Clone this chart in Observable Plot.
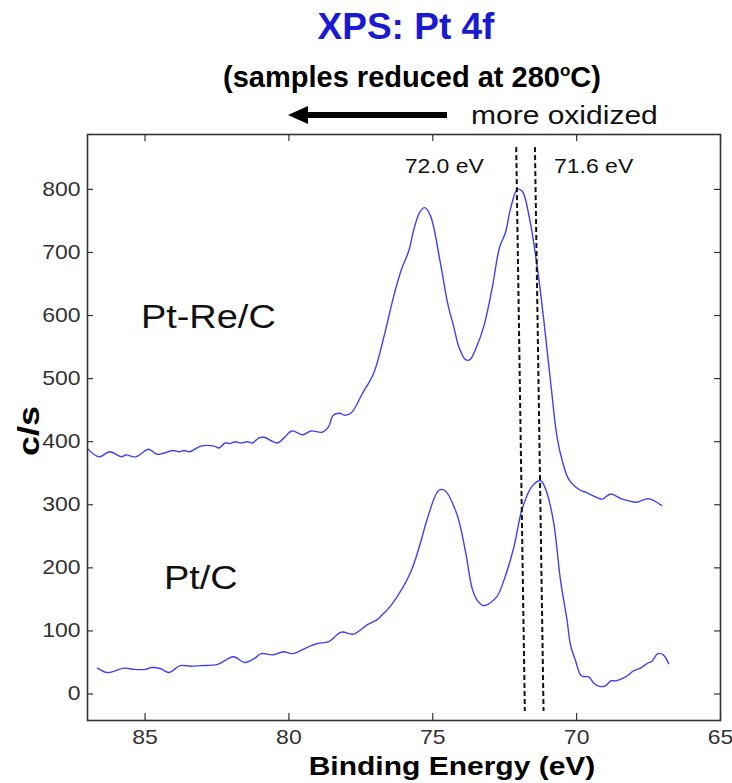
<!DOCTYPE html>
<html><head><meta charset="utf-8">
<script src="https://cdn.jsdelivr.net/npm/d3@7"></script>
<script src="https://cdn.jsdelivr.net/npm/@observablehq/plot@0.6"></script>
<style>
body{margin:0;background:#fff;}
#wrap{position:relative;width:732px;height:783px;overflow:hidden;font-family:"Liberation Sans",Arial,sans-serif;background:#fff;}
#wrap svg{position:absolute;left:0;top:0;}
.ov{position:absolute;white-space:nowrap;line-height:1;}
</style></head><body>
<div id="wrap">
  <div class="ov" style="left:406px;top:8px;transform:translateX(-50%);font-size:37px;font-weight:bold;color:#1a1ad0;">XPS: Pt 4f</div>
  <div class="ov" style="left:412px;top:63px;transform:translateX(-50%);font-size:29px;font-weight:bold;color:#000;">(samples reduced at 280<span style="font-size:17px;position:relative;top:-11px;">o</span>C)</div>
  <div class="ov" style="left:305px;top:112px;width:142px;height:6px;background:#000;"></div>
  <div class="ov" style="left:288px;top:106px;width:0;height:0;border-top:9px solid transparent;border-bottom:9px solid transparent;border-right:20px solid #000;"></div>
  <div class="ov" style="left:471px;top:103px;font-size:25px;color:#111;transform:scaleX(1.2);transform-origin:left center;">more oxidized</div>
  <div class="ov" style="left:452px;top:754px;transform:translateX(-50%) scaleX(1.2);font-size:25px;font-weight:bold;color:#000;">Binding Energy (eV)</div>
  <div class="ov" style="left:29px;top:431px;transform:translate(-50%,-50%) rotate(-90deg) scaleX(1.2);font-size:30px;font-weight:bold;color:#000;">c/s</div>
</div>
<script>
// Pt-Re/C spectrum (binding energy eV, counts/s)
const ptReEV = [87.00, 86.60, 86.23, 85.81, 85.67, 85.32, 84.88, 84.57, 84.03, 83.82,
  83.64, 83.45, 83.06, 82.60, 82.43, 82.22, 82.06, 81.85, 81.68, 81.44,
  81.27, 81.04, 80.87, 80.40, 80.17, 79.90, 79.51, 79.24, 78.84, 78.63,
  78.46, 78.24, 78.06, 77.83, 77.45, 77.05, 76.70, 76.35, 76.09, 75.83,
  75.66, 75.45, 75.28, 75.08, 74.73, 74.48, 74.27, 74.09, 73.86, 73.71,
  73.48, 73.22, 72.93, 72.68, 72.47, 72.30, 72.06, 71.89, 71.63, 71.37,
  71.14, 70.91, 70.68, 70.50, 70.27, 69.87, 69.69, 69.46, 69.11, 68.82,
  68.42, 67.90, 67.61, 67.43, 67.05];
const ptReCounts = [389, 376, 384, 376, 379, 376, 388, 380, 386, 384,
  386, 384, 393, 393, 390, 398, 397, 400, 398, 400,
  398, 406, 407, 398, 406, 417, 411, 417, 415, 423,
  442, 445, 442, 446, 476, 509, 566, 632, 673, 703,
  736, 764, 771, 758, 682, 619, 582, 550, 530, 530,
  550, 584, 645, 708, 732, 769, 800, 797, 752, 677,
  592, 497, 407, 370, 340, 323, 320, 315, 309, 317,
  309, 304, 309, 309, 299];
// Pt/C spectrum
const ptEV = [86.65, 86.31, 85.73, 85.38, 84.98, 84.77, 84.45, 84.17, 83.78, 83.41,
  83.06, 82.48, 81.93, 81.54, 81.21, 80.96, 80.57, 80.19, 79.88, 79.36,
  79.01, 78.61, 78.18, 77.76, 77.27, 76.93, 76.81, 76.41, 75.77, 75.42,
  75.19, 74.79, 74.59, 74.17, 73.86, 73.63, 73.45, 73.22, 72.78, 72.53,
  72.18, 71.89, 71.54, 71.25, 71.08, 70.81, 70.56, 70.33, 70.21, 70.04,
  69.84, 69.58, 69.40, 69.20, 69.00, 68.80, 68.62, 68.30, 68.01, 67.78,
  67.53, 67.38, 67.18, 66.99, 66.80];
const ptCounts = [41, 34, 41, 39, 39, 42, 40, 34, 45, 44,
  45, 47, 59, 50, 56, 64, 62, 67, 64, 74,
  80, 83, 98, 95, 110, 118, 123, 143, 193, 241,
  278, 323, 323, 286, 225, 167, 148, 140, 154, 180,
  233, 294, 330, 338, 325, 275, 180, 116, 77, 53,
  29, 27, 17, 12, 13, 21, 21, 27, 37, 41,
  49, 52, 64, 62, 48];
// dashed reference lines (slightly slanted in the original)
const dashTopEV = [72.10, 71.45];
const dashBottomEV = [71.80, 71.15];
const dashTopCounts = [867, 867];
const dashBottomCounts = [-27, -27];
// annotations
const peakLabels = ["72.0 eV", "71.6 eV"];
const peakLabelEV = [74.60, 69.41];
const peakLabelCounts = [836, 836];
const sampleLabels = ["Pt-Re/C", "Pt/C"];
const sampleLabelEV = [82.80, 83.06];
const sampleLabelCounts = [597, 184];
// axes
const xDomain = [87, 65];
const yDomain = [-42, 887];
const xTicks = [85, 80, 75, 70, 65];
const yTicks = [0, 100, 200, 300, 400, 500, 600, 700, 800];

const W = 732, H = 783, mL = 87, mR = 12, mT = 134, mB = 63;
const fw = W - mL - mR, fh = H - mT - mB;
const idx = n => d3.range(n);
const lineColor = "#4040f2", axisColor = "#333";

const svg = Plot.plot({
  width: W, height: H,
  marginLeft: mL, marginRight: mR, marginTop: mT, marginBottom: mB,
  style: {fontFamily: '"Liberation Sans", Arial, sans-serif', fontSize: "20px", color: axisColor, background: "transparent", overflow: "visible"},
  x: {domain: xDomain, label: null},
  y: {domain: yDomain, label: null},
  marks: [
    Plot.axisX({ticks: xTicks, tickSize: 0, tickPadding: 9, label: null, fontSize: 20, fill: axisColor}),
    Plot.axisY({ticks: yTicks, tickSize: 0, tickPadding: 7, label: null, fontSize: 20, fill: axisColor}),
    Plot.tickX(xTicks, {x: d => d, insetTop: fh - 7, stroke: axisColor, strokeWidth: 1.2}),
    Plot.tickX(xTicks, {x: d => d, insetBottom: fh - 7, stroke: axisColor, strokeWidth: 1.2}),
    Plot.tickY(yTicks, {y: d => d, insetRight: fw - 6, stroke: axisColor, strokeWidth: 1.2}),
    Plot.tickY(yTicks, {y: d => d, insetLeft: fw - 6, stroke: axisColor, strokeWidth: 1.2}),
    Plot.line(idx(ptReEV.length), {x: i => ptReEV[i], y: i => ptReCounts[i], stroke: lineColor, strokeWidth: 1.4, curve: "catmull-rom"}),
    Plot.line(idx(ptEV.length), {x: i => ptEV[i], y: i => ptCounts[i], stroke: lineColor, strokeWidth: 1.4, curve: "catmull-rom"}),
    Plot.link(idx(2), {x1: i => dashTopEV[i], y1: i => dashTopCounts[i], x2: i => dashBottomEV[i], y2: i => dashBottomCounts[i], stroke: "#111", strokeWidth: 2, strokeDasharray: "5,3"}),
    Plot.text(idx(2), {x: i => peakLabelEV[i], y: i => peakLabelCounts[i], text: i => peakLabels[i], fontSize: 20, fill: "#111"}),
    Plot.text(idx(2), {x: i => sampleLabelEV[i], y: i => sampleLabelCounts[i], text: i => sampleLabels[i], fontSize: 33, fill: "#111"}),
    Plot.frame({stroke: axisColor, strokeWidth: 1.6})
  ]
});
// horizontal stretch of chart text, as in the original image
const SX = 1.15;
svg.querySelectorAll("text").forEach(t => {
  const x = t.getAttribute("x");
  const tr = t.getAttribute("transform") || "";
  if (x !== null) t.removeAttribute("x");
  t.setAttribute("transform", `${tr} translate(${x ?? 0},0) scale(${SX},1)`);
});
document.getElementById("wrap").prepend(svg);
</script>
</body></html>
